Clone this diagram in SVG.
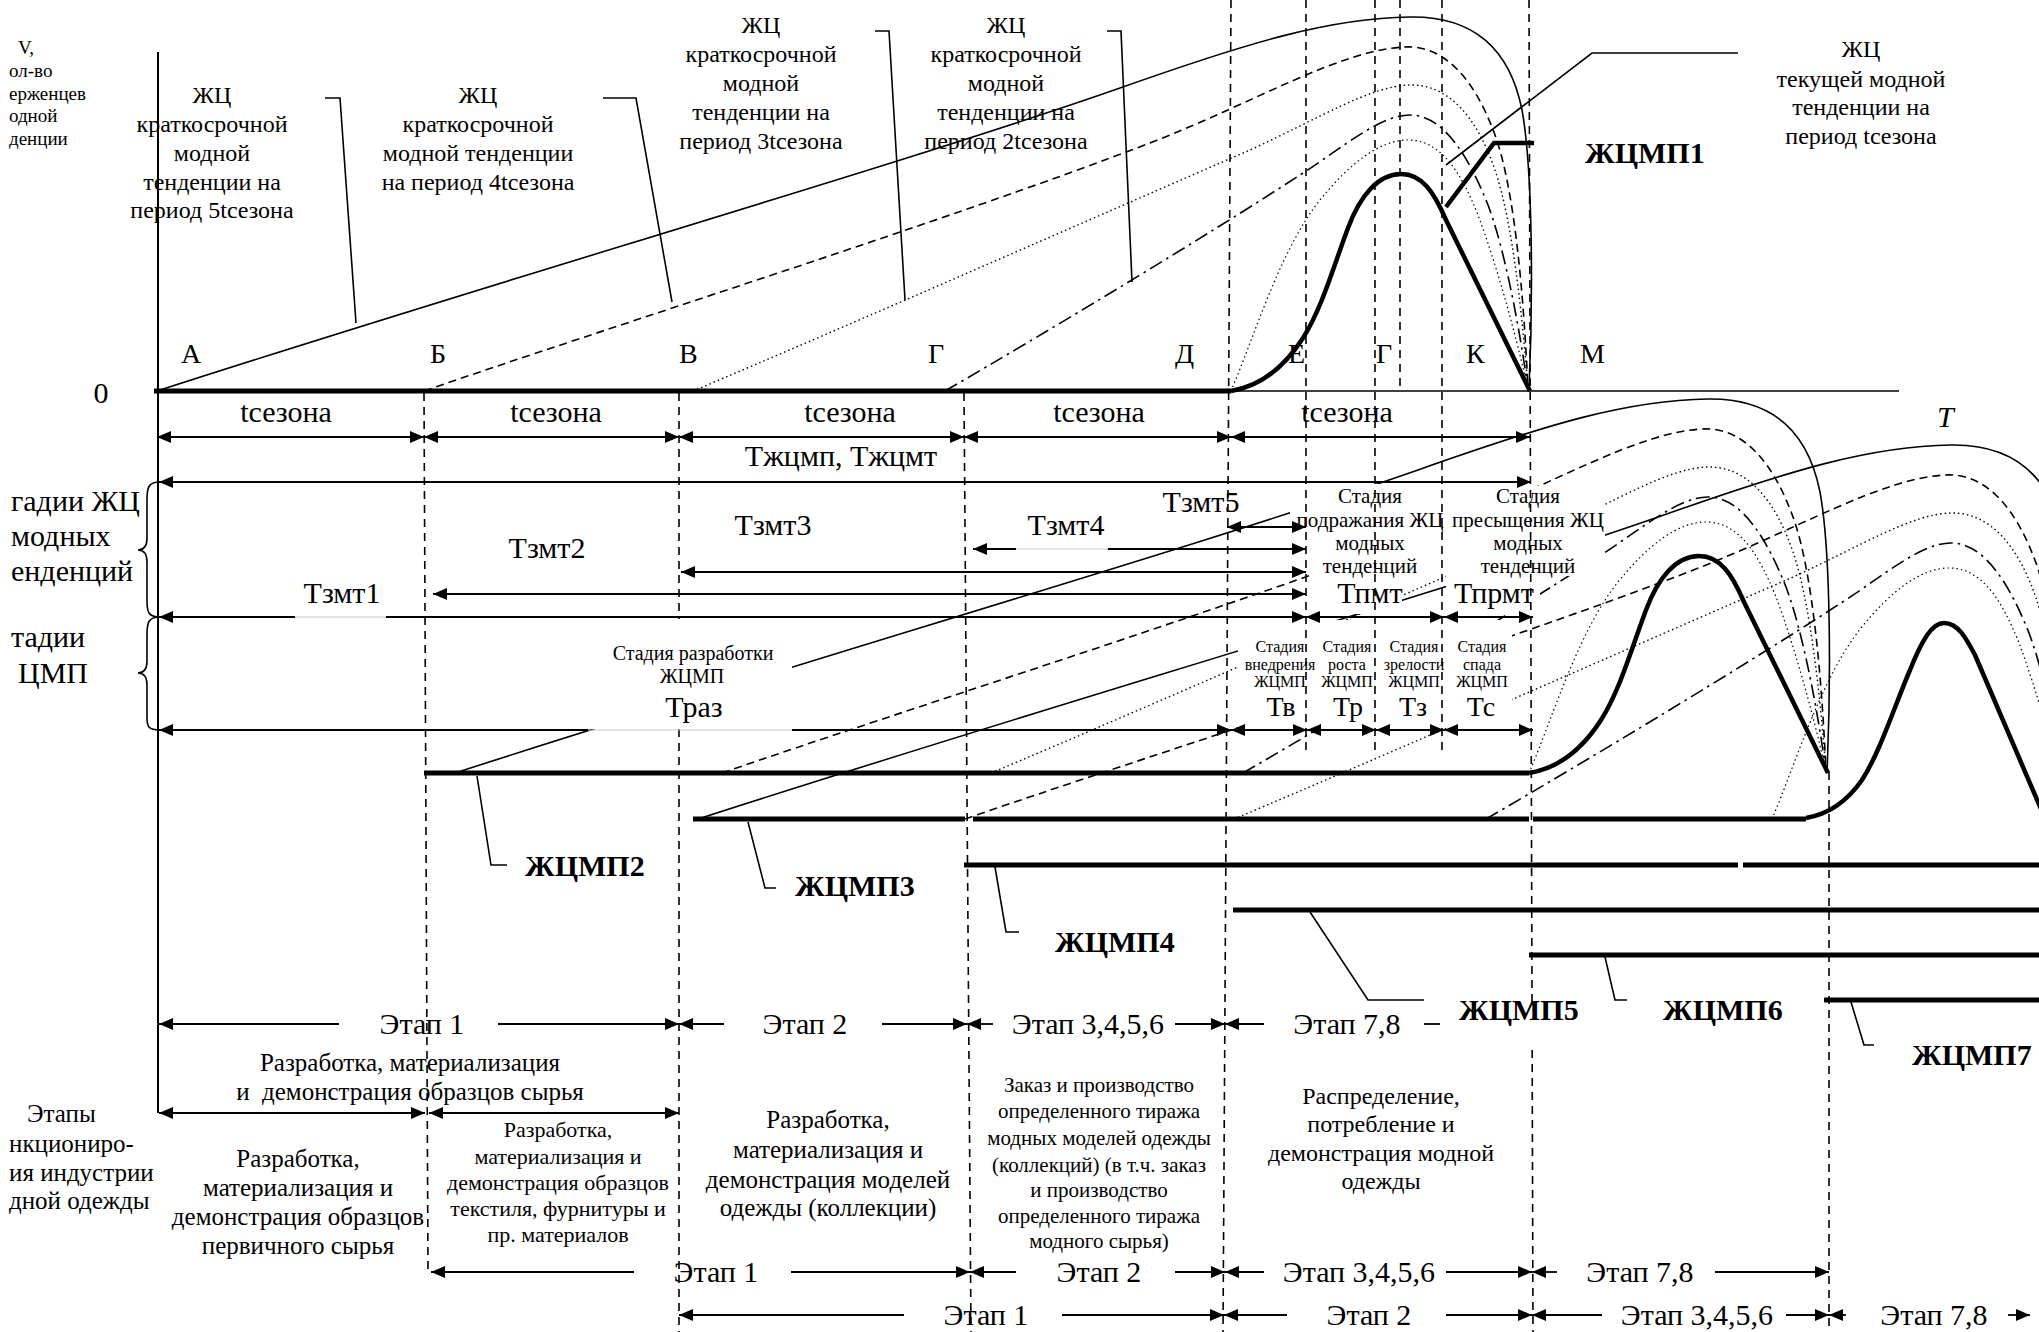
<svg xmlns="http://www.w3.org/2000/svg" width="2039" height="1332" viewBox="0 0 2039 1332">
<style>
text{font-family:"Liberation Serif","Times New Roman",serif;fill:#000}
.m{text-anchor:middle}
.b{font-weight:bold;font-size:30px}
.f30{font-size:30px}
.f28{font-size:28px}
.f25{font-size:25px}
.f24{font-size:24px}
.f22{font-size:22px}
.f21{font-size:21px}
.f20{font-size:20px}
.f19{font-size:19px}
.f16{font-size:16px}
.ln{fill:none;stroke:#000;stroke-width:1.6}
.ds{stroke-dasharray:8 5}
.dt{stroke-dasharray:1.5 3;stroke-width:1.4}
.dd{stroke-dasharray:14 5 2.5 5}
.vd{fill:none;stroke:#000;stroke-width:1.6;stroke-dasharray:8 6}
.tk{fill:none;stroke:#000;stroke-width:5}
.bl{fill:none;stroke:#000;stroke-width:4.5;stroke-linejoin:round}
.ar{fill:none;stroke:#000;stroke-width:1.8}
.ab{fill:none;stroke:#000;stroke-width:1.8;marker-start:url(#ah);marker-end:url(#ah)}
.as{fill:none;stroke:#000;stroke-width:1.8;marker-start:url(#ah)}
.ae{fill:none;stroke:#000;stroke-width:1.8;marker-end:url(#ah)}
.gr{fill:none;stroke:#c8c8c8;stroke-width:1.2}
.wb{fill:#fff;stroke:none}
</style>
<defs>
<marker id="ah" viewBox="0 0 14 12" refX="14" refY="6" markerWidth="14" markerHeight="12" markerUnits="userSpaceOnUse" orient="auto-start-reverse"><path d="M0,0L14,6L0,12z" fill="#000"/></marker>
<g id="env">
<path class="ln" d="M157,391 C500,280 900,165 1120,88 C1250,42 1330,18 1410,17 C1475,16 1510,50 1522,110 C1533,170 1533,300 1529,390"/>
<path class="ln ds" d="M424,391 C600,330 950,220 1150,143 C1260,100 1340,50 1405,47 C1445,45 1475,80 1495,135 C1515,190 1524,300 1528,390"/>
<path class="ln dt" d="M693,391 C850,325 1100,215 1250,150 C1320,118 1370,86 1410,85 C1450,84 1478,120 1495,170 C1512,220 1522,310 1528,390"/>
<path class="ln dd" d="M945,391 C1050,330 1200,240 1300,175 C1345,146 1380,115 1410,115 C1445,115 1470,160 1488,205 C1505,250 1520,330 1528,390"/>
<path class="ln dt" style="stroke-width:1.2" d="M1231,391 C1255,335 1280,250 1320,200 C1350,163 1380,140 1408,140 C1440,140 1460,170 1478,215 C1495,260 1515,330 1528,390"/>
</g>
<path id="bell1" class="bl" d="M1231,391 C1262,386 1285,366 1303,338 C1322,308 1333,268 1348,228 C1360,196 1378,174 1401,174 C1422,174 1434,192 1446,220 L1530,391"/>
</defs>

<g id="charts">
<path class="tk" d="M154,391 H1231"/>
<path class="ln" d="M1231,391 H1899"/>
<use href="#env"/>
<use href="#bell1"/>
<path class="tk" d="M424,773 H1529"/>
<use href="#env" transform="translate(298,382)"/>
<use href="#bell1" transform="translate(298,382)"/>
<path class="tk" d="M693,819 H965 M973,819 H1529 M1533,819 H1806"/>
<use href="#env" transform="translate(541,428)"/>
<path class="bl" d="M1806,818 C1830,814 1848,800 1862,780 C1880,752 1895,705 1910,670 C1922,640 1932,623 1944,623 C1958,623 1966,638 1975,655 L2050,830"/>
<path class="tk" d="M964,865 H1738 M1743,865 H2039"/>
<path class="tk" d="M1233,910 H2039"/>
<path class="tk" d="M1529,955 H2039"/>
<path class="tk" d="M1824,1000 H2039"/>
</g>

<g id="boxes1">
<rect class="wb" x="1290" y="484" width="152" height="86"/>
<rect class="wb" x="1310" y="570" width="92" height="44"/>
<rect class="wb" x="1446" y="486" width="159" height="90"/>
<rect class="wb" x="1446" y="576" width="94" height="38"/>
<rect class="wb" x="1238" y="620" width="274" height="108"/>
</g>

<g id="dividers">
<path class="vd" d="M424,393 L428,1273"/>
<path class="vd" d="M679,393 L679,1332"/>
<path class="vd" d="M964,393 L971,1332"/>
<path class="vd" d="M1231,0 L1223,1332"/>
<path class="vd" d="M1306,0 V750"/>
<path class="vd" d="M1375,0 V750"/>
<path class="vd" d="M1400,0 V391"/>
<path class="vd" d="M1442,0 V750"/>
<path class="vd" d="M1529,0 L1533,1332"/>
<path class="vd" d="M1829,772 V1332"/>
</g>

<g id="boxes2">
<rect class="wb" x="588" y="619" width="204" height="110"/>
<rect class="wb" x="1440" y="1003" width="152" height="43"/>
</g>

<g id="connectors">
<path class="ln" style="stroke-width:2" d="M158,52 V1113"/>
<path class="ln" d="M325,98 H340 L356,323"/>
<path class="ln" d="M603,98 H636 L672,302"/>
<path class="ln" d="M875,31 H889 L905,300"/>
<path class="ln" d="M1107,31 H1121 L1132,282"/>
<path class="ln" d="M1738,53 H1592 L1446,165"/>
<path fill="none" stroke="#000" stroke-width="4.5" d="M1446,207 L1494,143 H1534"/>
<path class="ln" d="M477,776 L491,865 H507"/>
<path class="ln" d="M748,822 L765,888 H776"/>
<path class="ln" d="M995,867 L1006,932 H1019"/>
<path class="ln" d="M1310,912 L1368,1000 H1424"/>
<path class="ln" d="M1605,957 L1615,1000 H1627"/>
<path class="ln" d="M1851,1002 L1864,1045 H1874"/>
<path class="ln" d="M160,482 C148,482 147,488 147,500 L147,538 C147,546 144,550 138,550 C144,550 147,554 147,562 L147,600 C147,612 148,617 160,617"/>
<path class="ln" d="M160,617 C148,617 147,623 147,635 L147,661 C147,669 144,673 138,673 C144,673 147,677 147,685 L147,718 C147,726 148,730 160,730"/>

<line class="ab" x1="157" y1="437" x2="424" y2="437"/>
<line class="ab" x1="424" y1="437" x2="679" y2="437"/>
<line class="ab" x1="679" y1="437" x2="964" y2="437"/>
<line class="ab" x1="964" y1="437" x2="1231" y2="437"/>
<line class="ab" x1="1231" y1="437" x2="1530" y2="437"/>
<line class="ab" x1="159" y1="482" x2="1531" y2="482"/>
<line class="ab" x1="1227" y1="527" x2="1306" y2="527"/>
<line class="as" x1="973" y1="549" x2="1016" y2="549"/>
<line class="gr" x1="1016" y1="549" x2="1108" y2="549"/>
<line class="ae" x1="1108" y1="549" x2="1306" y2="549"/>
<line class="ab" x1="681" y1="572" x2="1306" y2="572"/>
<line class="ab" x1="433" y1="594" x2="1306" y2="594"/>
<line class="as" x1="159" y1="617" x2="295" y2="617"/>
<line class="gr" x1="295" y1="617" x2="386" y2="617"/>
<line class="ae" x1="386" y1="617" x2="1306" y2="617"/>
<line class="ab" x1="1306" y1="617" x2="1444" y2="617"/>
<line class="ab" x1="1444" y1="617" x2="1533" y2="617"/>
<line class="as" x1="159" y1="730" x2="588" y2="730"/>
<line class="gr" x1="588" y1="730" x2="792" y2="730"/>
<line class="ae" x1="792" y1="730" x2="1231" y2="730"/>
<line class="ab" x1="1231" y1="730" x2="1307" y2="730"/>
<line class="ab" x1="1307" y1="730" x2="1376" y2="730"/>
<line class="ab" x1="1376" y1="730" x2="1444" y2="730"/>
<line class="ab" x1="1444" y1="730" x2="1533" y2="730"/>

<line class="as" x1="159" y1="1024" x2="339" y2="1024"/>
<line class="ae" x1="498" y1="1024" x2="679" y2="1024"/>
<line class="as" x1="679" y1="1024" x2="724" y2="1024"/>
<line class="ae" x1="882" y1="1024" x2="967" y2="1024"/>
<line class="as" x1="967" y1="1024" x2="993" y2="1024"/>
<line class="ae" x1="1175" y1="1024" x2="1225" y2="1024"/>
<line class="as" x1="1225" y1="1024" x2="1264" y2="1024"/>
<line class="ar" x1="1424" y1="1024" x2="1440" y2="1024"/>

<line class="ab" x1="159" y1="1113" x2="425" y2="1113"/>
<line class="ab" x1="429" y1="1113" x2="679" y2="1113"/>

<line class="as" x1="431" y1="1272" x2="634" y2="1272"/>
<line class="ae" x1="791" y1="1272" x2="970" y2="1272"/>
<line class="as" x1="970" y1="1272" x2="1016" y2="1272"/>
<line class="ae" x1="1175" y1="1272" x2="1225" y2="1272"/>
<line class="as" x1="1225" y1="1272" x2="1264" y2="1272"/>
<line class="ae" x1="1446" y1="1272" x2="1532" y2="1272"/>
<line class="as" x1="1532" y1="1272" x2="1557" y2="1272"/>
<line class="ae" x1="1715" y1="1272" x2="1829" y2="1272"/>

<line class="as" x1="679" y1="1315" x2="904" y2="1315"/>
<line class="ae" x1="1062" y1="1315" x2="1224" y2="1315"/>
<line class="as" x1="1224" y1="1315" x2="1287" y2="1315"/>
<line class="ae" x1="1446" y1="1315" x2="1532" y2="1315"/>
<line class="as" x1="1532" y1="1315" x2="1602" y2="1315"/>
<line class="ae" x1="1786" y1="1315" x2="1829" y2="1315"/>
<line class="as" x1="1829" y1="1315" x2="1846" y2="1315"/>
<line class="ae" x1="2008" y1="1315" x2="2030" y2="1315"/>
</g>

<g id="labels-top">
<text class="f19" x="18" y="54">V,</text>
<text class="f19" x="9" y="77">ол-во</text>
<text class="f19" x="9" y="100">ерженцев</text>
<text class="f19" x="9" y="122">одной</text>
<text class="f19" x="9" y="145">денции</text>
<text class="f24 m"><tspan x="212" y="103">ЖЦ</tspan><tspan x="212" y="132">краткосрочной</tspan><tspan x="212" y="161">модной</tspan><tspan x="212" y="190">тенденции на</tspan><tspan x="212" y="218">период 5tсезона</tspan></text>
<text class="f24 m"><tspan x="478" y="103">ЖЦ</tspan><tspan x="478" y="132">краткосрочной</tspan><tspan x="478" y="161">модной тенденции</tspan><tspan x="478" y="190">на период 4tсезона</tspan></text>
<text class="f24 m"><tspan x="761" y="33">ЖЦ</tspan><tspan x="761" y="62">краткосрочной</tspan><tspan x="761" y="91">модной</tspan><tspan x="761" y="120">тенденции на</tspan><tspan x="761" y="149">период 3tсезона</tspan></text>
<text class="f24 m"><tspan x="1006" y="33">ЖЦ</tspan><tspan x="1006" y="62">краткосрочной</tspan><tspan x="1006" y="91">модной</tspan><tspan x="1006" y="120">тенденции  на</tspan><tspan x="1006" y="149">период 2tсезона</tspan></text>
<text class="f24 m"><tspan x="1861" y="57">ЖЦ</tspan><tspan x="1861" y="87">текущей модной</tspan><tspan x="1861" y="115">тенденции на</tspan><tspan x="1861" y="144">период tсезона</tspan></text>
<text class="b" x="1585" y="163">ЖЦМП1</text>
<text class="f28" x="181" y="363">А</text>
<text class="f28" x="430" y="363">Б</text>
<text class="f28" x="679" y="363">В</text>
<text class="f28" x="928" y="363">Г</text>
<text class="f28" x="1175" y="363">Д</text>
<text class="f28" x="1288" y="363">Е</text>
<text class="f28" x="1376" y="363">Г</text>
<text class="f28" x="1466" y="363">К</text>
<text class="f28" x="1580" y="363">М</text>
<text class="f30 m" x="101" y="403">0</text>
<text class="f30" x="1937" y="427" font-style="italic">T</text>
</g>

<g id="labels-periods">
<text class="f30 m" x="286" y="422">tсезона</text>
<text class="f30 m" x="556" y="422">tсезона</text>
<text class="f30 m" x="850" y="422">tсезона</text>
<text class="f30 m" x="1099" y="422">tсезона</text>
<text class="f30 m" x="1347" y="422">tсезона</text>
<text class="f30 m" x="841" y="466">Тжцмп, Тжцмт</text>
<text class="f30" x="11" y="511">гадии ЖЦ</text>
<text class="f30" x="11" y="546">модных</text>
<text class="f30" x="11" y="581">енденций</text>
<text class="f30" x="11" y="647">тадии</text>
<text class="f30" x="18" y="683">ЦМП</text>
<text class="f30 m" x="342" y="603">Тзмт1</text>
<text class="f30 m" x="547" y="558">Тзмт2</text>
<text class="f30 m" x="773" y="535">Тзмт3</text>
<text class="f30 m" x="1066" y="535">Тзмт4</text>
<text class="f30 m" x="1201" y="512">Тзмт5</text>
<text class="f20 m" x="693" y="660">Стадия разработки</text>
<text class="f20 m" x="692" y="683">ЖЦМП</text>
<text class="f30 m" x="694" y="717">Траз</text>
<text class="f21 m"><tspan x="1370" y="503">Стадия</tspan><tspan x="1370" y="527">подражания ЖЦ</tspan><tspan x="1370" y="550">модных</tspan><tspan x="1370" y="573">тенденций</tspan></text>
<text class="f21 m"><tspan x="1528" y="503">Стадия</tspan><tspan x="1528" y="527">пресыщения ЖЦ</tspan><tspan x="1528" y="550">модных</tspan><tspan x="1528" y="573">тенденций</tspan></text>
<text class="f30 m" x="1370" y="603">Тпмт</text>
<text class="f30 m" x="1494" y="603">Тпрмт</text>
<text class="f16 m"><tspan x="1280" y="652">Стадия</tspan><tspan x="1280" y="670">внедрения</tspan><tspan x="1280" y="687">ЖЦМП</tspan></text>
<text class="f16 m"><tspan x="1347" y="652">Стадия</tspan><tspan x="1347" y="670">роста</tspan><tspan x="1347" y="687">ЖЦМП</tspan></text>
<text class="f16 m"><tspan x="1414" y="652">Стадия</tspan><tspan x="1414" y="670">зрелости</tspan><tspan x="1414" y="687">ЖЦМП</tspan></text>
<text class="f16 m"><tspan x="1482" y="652">Стадия</tspan><tspan x="1482" y="670">спада</tspan><tspan x="1482" y="687">ЖЦМП</tspan></text>
<text class="f28 m" x="1281" y="716">Тв</text>
<text class="f28 m" x="1348" y="716">Тр</text>
<text class="f28 m" x="1413" y="716">Тз</text>
<text class="f28 m" x="1481" y="716">Тс</text>
</g>

<g id="labels-lines">
<text class="b" x="525" y="876">ЖЦМП2</text>
<text class="b" x="795" y="896">ЖЦМП3</text>
<text class="b" x="1055" y="952">ЖЦМП4</text>
<text class="b" x="1459" y="1020">ЖЦМП5</text>
<text class="b" x="1663" y="1020">ЖЦМП6</text>
<text class="b" x="1912" y="1065">ЖЦМП7</text>
</g>

<g id="labels-stages">
<text class="f30 m" x="422" y="1034">Этап 1</text>
<text class="f30 m" x="805" y="1034">Этап 2</text>
<text class="f30 m" x="1088" y="1034">Этап 3,4,5,6</text>
<text class="f30 m" x="1347" y="1034">Этап 7,8</text>
<text class="f30 m" x="716" y="1282">Этап 1</text>
<text class="f30 m" x="1099" y="1282">Этап 2</text>
<text class="f30 m" x="1359" y="1282">Этап 3,4,5,6</text>
<text class="f30 m" x="1640" y="1282">Этап 7,8</text>
<text class="f30 m" x="986" y="1325">Этап 1</text>
<text class="f30 m" x="1369" y="1325">Этап 2</text>
<text class="f30 m" x="1697" y="1325">Этап 3,4,5,6</text>
<text class="f30 m" x="1934" y="1325">Этап 7,8</text>
<text class="f25 m"><tspan x="410" y="1071">Разработка, материализация</tspan><tspan x="410" y="1100" xml:space="preserve">и  демонстрация образцов сырья</tspan></text>
<text class="f25 m"><tspan x="298" y="1167">Разработка,</tspan><tspan x="298" y="1196">материализация и</tspan><tspan x="298" y="1225">демонстрация образцов</tspan><tspan x="298" y="1254">первичного сырья</tspan></text>
<text class="f22 m"><tspan x="558" y="1137">Разработка,</tspan><tspan x="558" y="1164">материализация и</tspan><tspan x="558" y="1190">демонстрация образцов</tspan><tspan x="558" y="1216">текстиля, фурнитуры и</tspan><tspan x="558" y="1242">пр. материалов</tspan></text>
<text class="f25 m"><tspan x="828" y="1128">Разработка,</tspan><tspan x="828" y="1158">материализация и</tspan><tspan x="828" y="1188">демонстрация моделей</tspan><tspan x="828" y="1216">одежды (коллекции)</tspan></text>
<text class="f21 m"><tspan x="1099" y="1092">Заказ и производство</tspan><tspan x="1099" y="1118">определенного тиража</tspan><tspan x="1099" y="1145">модных моделей одежды</tspan><tspan x="1099" y="1172">(коллекций) (в т.ч. заказ</tspan><tspan x="1099" y="1197">и производство</tspan><tspan x="1099" y="1223">определенного тиража</tspan><tspan x="1099" y="1248">модного сырья)</tspan></text>
<text class="f24 m"><tspan x="1381" y="1104">Распределение,</tspan><tspan x="1381" y="1132">потребление и</tspan><tspan x="1381" y="1161">демонстрация модной</tspan><tspan x="1381" y="1189">одежды</tspan></text>
<text class="f25"><tspan x="27" y="1122">Этапы</tspan><tspan x="9" y="1152">нкциониро-</tspan><tspan x="9" y="1181">ия индустрии</tspan><tspan x="9" y="1209">дной одежды</tspan></text>
</g>
</svg>
